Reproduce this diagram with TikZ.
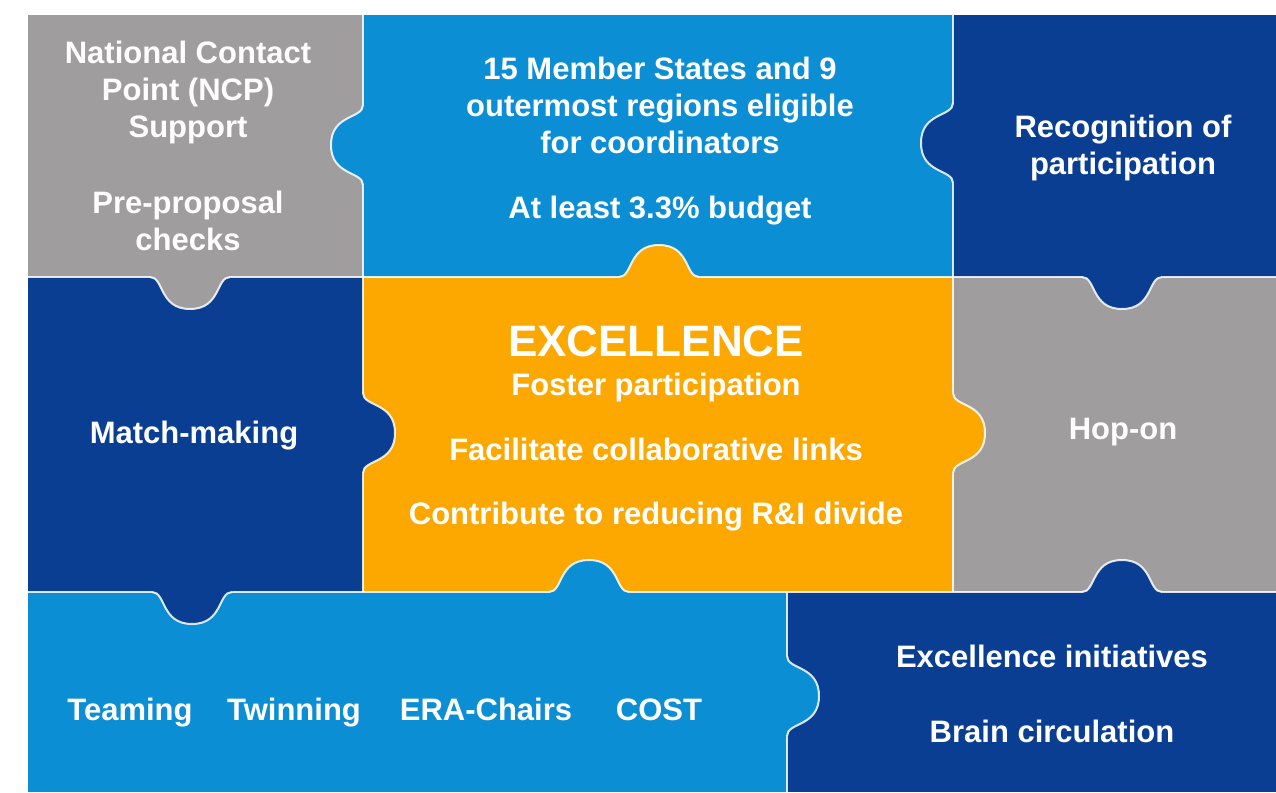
\documentclass[tikz,border=0pt]{standalone}
\usepackage{fontspec}
\setmainfont{Liberation Sans}

\definecolor{pgray}{RGB}{160,157,158}
\definecolor{plight}{RGB}{11,142,212}
\definecolor{pdark}{RGB}{10,62,146}
\definecolor{porange}{RGB}{252,168,0}

% knob: base centre x, y, rotation, colour
\newcommand{\puzzleknob}[4]{%
  \fill [#4,shift={(#1,#2)},rotate=#3] (-40,-3) -- (-40,0) .. controls (-26,0) and (-31,32) .. (0,32) .. controls (31,32) and (26,0) .. (40,0) -- (40,-3) -- cycle;
  \draw [seam,shift={(#1,#2)},rotate=#3] (-40,0) .. controls (-26,0) and (-31,32) .. (0,32) .. controls (31,32) and (26,0) .. (40,0);
}

\begin{document}
\begin{tikzpicture}[x=1pt,y=-1pt]
\begin{scope}

\tikzstyle{seam} = [draw=white,line width=2pt,opacity=0.85];
\tikzstyle{piecetext} = [text=white,font=\fontsize{31}{37}\selectfont\bfseries,align=center,inner sep=0pt];
\tikzstyle{lineatbase} = [piecetext,anchor=base];
\tikzstyle{bigtext} = [lineatbase,font=\fontsize{44}{48}\selectfont\bfseries];

\useasboundingbox (0,0) rectangle (1276,792);
\fill [white] (0,0) rectangle (1276,792);

\fill [pgray] (28,15) rectangle (363,277);
\fill [plight] (363,15) rectangle (953,277);
\fill [pdark] (953,15) rectangle (1276,277);
\fill [pdark] (28,277) rectangle (363,592);
\fill [porange] (363,277) rectangle (953,592);
\fill [pgray] (953,277) rectangle (1276,592);
\fill [plight] (28,592) rectangle (787,792);
\fill [pdark] (787,592) rectangle (1276,792);

\draw [seam] (363,15) -- (363,592);
\draw [seam] (953,15) -- (953,592);
\draw [seam] (28,277) -- (1276,277);
\draw [seam] (28,592) -- (1276,592);
\draw [seam] (787,592) -- (787,792);

\puzzleknob{190}{277}{0}{pgray}
\puzzleknob{363}{145}{-90}{plight}
\puzzleknob{953}{143}{-90}{pdark}
\puzzleknob{659}{277}{180}{porange}
\puzzleknob{1122}{277}{0}{pdark}
\puzzleknob{363}{433}{90}{pdark}
\puzzleknob{953}{433}{90}{porange}
\puzzleknob{192}{592}{0}{pdark}
\puzzleknob{589}{592}{180}{plight}
\puzzleknob{1122}{592}{180}{pdark}
\puzzleknob{787}{696}{90}{plight}

\node [piecetext] (ncp) at (188,92) {National Contact\\Point (NCP)\\Support};
\node [piecetext] (checks) at (188,221) {Pre-proposal\\checks};

\node [piecetext] (states) at (660,105) {15 Member States and 9\\outermost regions eligible\\for coordinators};
\node [lineatbase] (budget) at (660,218) {At least 3.3\% budget};

\node [piecetext] (recog) at (1123,148) {Recognition of\\participation};

\node [lineatbase] (match) at (194,443) {Match-making};

\node [bigtext] (excel) at (656,356) {EXCELLENCE};
\node [lineatbase] (foster) at ([yshift=-39]excel.base) {Foster participation};
\node [lineatbase] (collab) at ([yshift=-65]foster.base) {Facilitate collaborative links};
\node [lineatbase] (divide) at ([yshift=-64]collab.base) {Contribute to reducing R\&I divide};

\node [lineatbase] (hopon) at (1123,439) {Hop-on};

\node [lineatbase] (teaming) at (130,720) {Teaming};
\node [lineatbase] (twinning) at (294,720) {Twinning};
\node [lineatbase] (erachairs) at (486,720) {ERA-Chairs};
\node [lineatbase] (cost) at (659,720) {COST};

\node [lineatbase] (initiatives) at (1052,667) {Excellence initiatives};
\node [lineatbase] (brain) at ([yshift=-75]initiatives.base) {Brain circulation};

\end{scope}
\end{tikzpicture}
\end{document}
